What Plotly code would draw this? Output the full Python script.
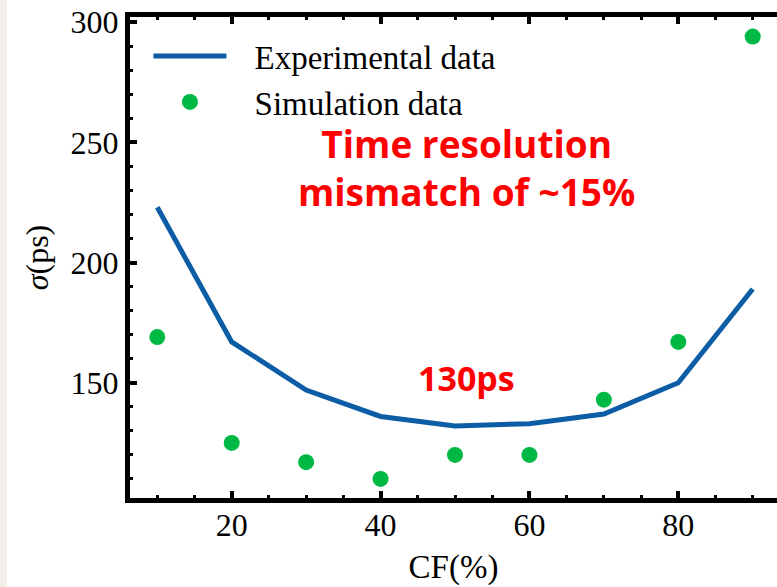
import plotly.graph_objects as go

# Constant-fraction (CF) settings and the measured / simulated time resolution
cf = [10, 20, 30, 40, 50, 60, 70, 80, 90]
sigma_exp = [223, 167, 147, 136, 132, 133, 137, 150, 189]
sigma_sim = [169, 125, 117, 110, 120, 120, 143, 167, 294]

x_ticks = [20, 40, 60, 80]
y_ticks = [150, 200, 250, 300]

BLUE = "#0C5DA5"
GREEN = "#00B945"
SERIF = "Liberation Serif"
BOLD_SANS = "Open Sans"

x_range = [6.336, 93.26]
y_range = [102.08, 302.16]

# small gap between the legend sample and its label
GAP = "\u2002\u2009"

fig = go.Figure()
fig.add_trace(go.Scatter(
    x=cf, y=sigma_exp, mode="lines", name=GAP + "Experimental data",
    line=dict(color=BLUE, width=5),
))
fig.add_trace(go.Scatter(
    x=cf, y=sigma_sim, mode="markers", name=GAP + "Simulation data",
    marker=dict(color=GREEN, size=16, line=dict(width=0)),
))

axis_common = dict(
    showline=True, linewidth=5, linecolor="black",
    ticks="inside", ticklen=7, tickwidth=4, tickcolor="black",
    showgrid=False, zeroline=False,
    tickfont=dict(family=SERIF, size=32, color="black"),
)

fig.update_layout(
    width=777, height=587,
    margin=dict(l=130, r=0, t=17, b=89),
    paper_bgcolor="white", plot_bgcolor="white",
    font=dict(family=SERIF, size=32, color="black"),
    xaxis=dict(
        **axis_common, mirror="ticks", range=x_range, tickvals=x_ticks,
        ticklabelstandoff=-5,
        minor=dict(ticks="inside", ticklen=3, tickwidth=3, dtick=5, tick0=0, tickcolor="black"),
        title=dict(text="CF(%)", font=dict(family=SERIF, size=33), standoff=14),
    ),
    yaxis=dict(
        **axis_common, range=y_range, tickvals=y_ticks,
        minor=dict(ticks="inside", ticklen=3, tickwidth=3, dtick=10, tick0=0, tickcolor="black"),
        title=dict(text="<i>σ</i>(ps)", font=dict(family=SERIF, size=32), standoff=14),
    ),
    yaxis2=dict(
        overlaying="y", side="right", range=y_range, tickvals=y_ticks,
        showline=False, showgrid=False, zeroline=False, showticklabels=False,
        ticks="inside", ticklen=4, tickwidth=4, tickcolor="black",
    ),
    legend=dict(
        x=0.0285, y=0.977, xanchor="left", yanchor="top",
        bgcolor="rgba(0,0,0,0)", borderwidth=0, itemwidth=73,
        font=dict(family=SERIF, size=33, color="black"),
    ),
    showlegend=True,
)

# light strip along the left edge of the page
fig.add_shape(type="rect", xref="paper", yref="paper",
              x0=-130 / 647, x1=-123 / 647, y0=-1, y1=2,
              fillcolor="#F3F0EC", line=dict(width=0), layer="below")

fig.add_annotation(x=51.6, y=239.6, text="<b>Time resolution<br>mismatch of ~15%</b>",
                   showarrow=False, xanchor="center", yanchor="middle", align="center",
                   font=dict(family=BOLD_SANS, size=37, color="#FF0000"))
fig.add_annotation(x=51.6, y=152.0, text="<b>130ps</b>", showarrow=False,
                   xanchor="center", yanchor="middle",
                   font=dict(family=BOLD_SANS, size=34, color="#FF0000"))

fig.write_html("out.html")
